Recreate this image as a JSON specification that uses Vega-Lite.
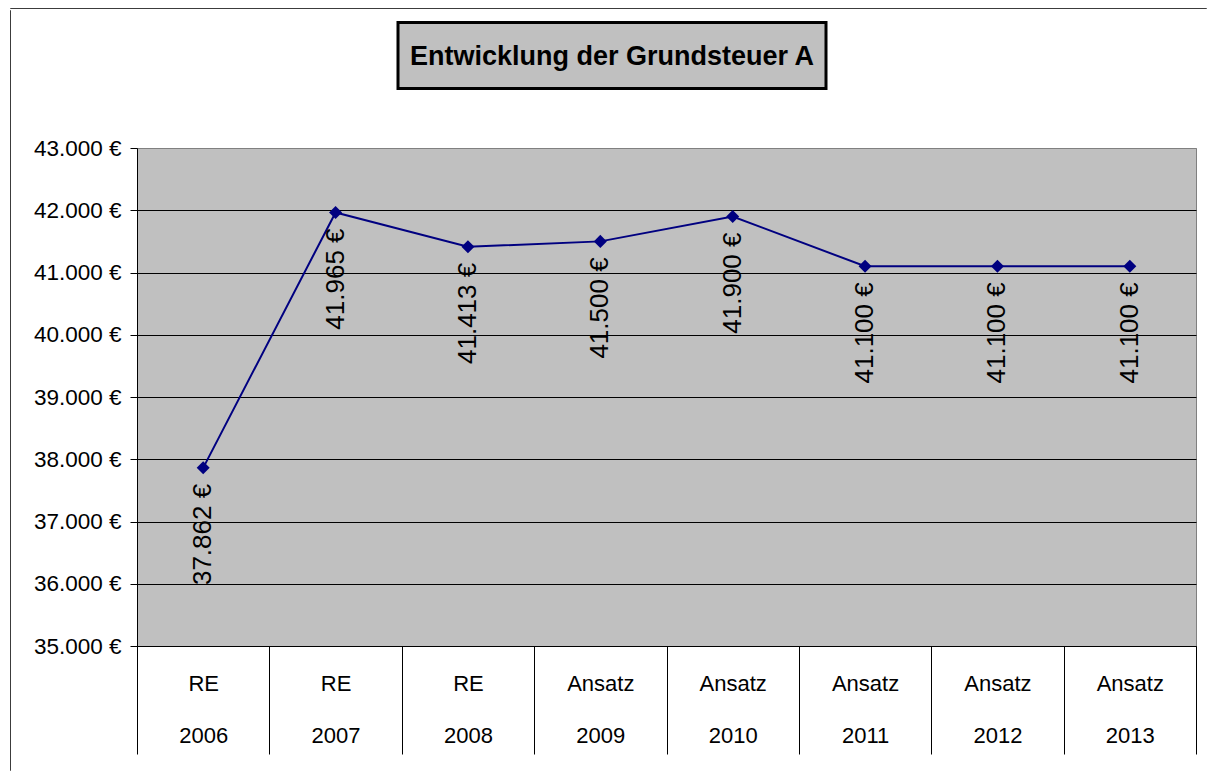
{
  "$schema": "https://vega.github.io/schema/vega-lite/v6.json",
  "autosize": {"type": "pad"},
  "padding": {"left": 9, "top": 7, "right": 0, "bottom": 0},
  "background": "white",
  "config": {
    "font": "Liberation Sans",
    "locale": {
      "number": {"decimal": ",", "thousands": ".", "grouping": [3], "currency": ["", " €"]}
    }
  },
  "data": {
    "values": [
      {"cat": "RE 2006", "value": 37862},
      {"cat": "RE 2007", "value": 41965},
      {"cat": "RE 2008", "value": 41413},
      {"cat": "Ansatz 2009", "value": 41500},
      {"cat": "Ansatz 2010", "value": 41900},
      {"cat": "Ansatz 2011", "value": 41100},
      {"cat": "Ansatz 2012", "value": 41100},
      {"cat": "Ansatz 2013", "value": 41100}
    ]
  },
  "columns": 1,
  "align": "none",
  "spacing": 0,
  "concat": [
    {
      "width": 1196,
      "height": 0.001,
      "data": {"values": []},
      "view": {"fill": null, "stroke": "#3c3c3c", "strokeWidth": 1},
      "mark": {"type": "text"},
      "encoding": {"text": {"value": ""}}
    },
    {
      "columns": 2,
      "align": "none",
      "spacing": 21,
      "concat": [
        {
          "width": 0.001,
          "height": 760,
          "data": {"values": []},
          "view": {"fill": null, "stroke": "#3c3c3c", "strokeWidth": 1},
          "mark": {"type": "text"},
          "encoding": {"text": {"value": ""}}
        },
        {
          "spacing": 46,
          "vconcat": [
            {
              "spacing": 9.5,
              "vconcat": [
                {
                  "width": 0.001,
                  "height": 0.001,
                  "data": {"values": []},
                  "view": {"fill": null, "stroke": null},
                  "mark": {"type": "text"},
                  "encoding": {"text": {"value": ""}}
                },
                {
                  "spacing": 0,
                  "hconcat": [
                    {
                      "width": 259,
                      "height": 66,
                      "data": {"values": []},
                      "view": {"fill": null, "stroke": null},
                      "mark": {"type": "text"},
                      "encoding": {"text": {"value": ""}}
                    },
                    {
                      "width": 428,
                      "height": 66,
                      "view": {"fill": "#c0c0c0", "stroke": "#000000", "strokeWidth": 3},
                      "data": {"values": [{"t": "Entwicklung der Grundsteuer A"}]},
                      "mark": {"type": "text", "fontSize": 27, "fontWeight": "bold", "color": "#000000", "baseline": "middle", "align": "center", "dy": 1},
                      "encoding": {"text": {"field": "t"}}
                    }
                  ]
                }
              ]
            },
            {
              "width": 1059,
              "height": 498,
              "view": {"fill": "#c0c0c0", "stroke": "#808080", "strokeWidth": 1},
              "encoding": {
                "x": {
                  "field": "cat",
                  "type": "nominal",
                  "sort": null,
                  "scale": {"paddingInner": 0, "paddingOuter": 0},
                  "axis": {
                    "title": null,
                    "labelAngle": 0,
                    "labelExpr": "split(datum.label, ' ')",
                    "labelFontSize": 22,
                    "labelColor": "#000000",
                    "labelLineHeight": 52,
                    "labelPadding": -81,
                    "labelBaseline": "top",
                    "tickBand": "extent",
                    "tickSize": 108,
                    "tickColor": "#000000",
                    "tickWidth": 1,
                    "domainColor": "#000000",
                    "domainWidth": 1,
                    "grid": false
                  }
                },
                "y": {
                  "field": "value",
                  "type": "quantitative",
                  "scale": {"domain": [35000, 43000], "nice": false, "zero": false},
                  "axis": {
                    "title": null,
                    "values": [35000, 36000, 37000, 38000, 39000, 40000, 41000, 42000, 43000],
                    "format": "$,.0f",
                    "labelFontSize": 22.5,
                    "labelColor": "#000000",
                    "labelPadding": 9,
                    "tickSize": 7,
                    "tickColor": "#000000",
                    "domainColor": "#000000",
                    "grid": true,
                    "gridColor": {"condition": {"test": "datum.value === 43000", "value": "#808080"}, "value": "#000000"},
                    "gridWidth": 1,
                    "gridOpacity": 1
                  }
                }
              },
              "layer": [
                {"mark": {"type": "line", "color": "#000080", "strokeWidth": 2}},
                {"mark": {"type": "point", "shape": "diamond", "filled": true, "size": 170, "color": "#000080", "opacity": 1}},
                {
                  "mark": {"type": "text", "angle": 270, "align": "right", "baseline": "middle", "dx": -16, "fontSize": 26, "color": "#000000"},
                  "encoding": {"text": {"field": "value", "type": "quantitative", "format": "$,.0f"}}
                }
              ]
            }
          ]
        }
      ]
    }
  ]
}
